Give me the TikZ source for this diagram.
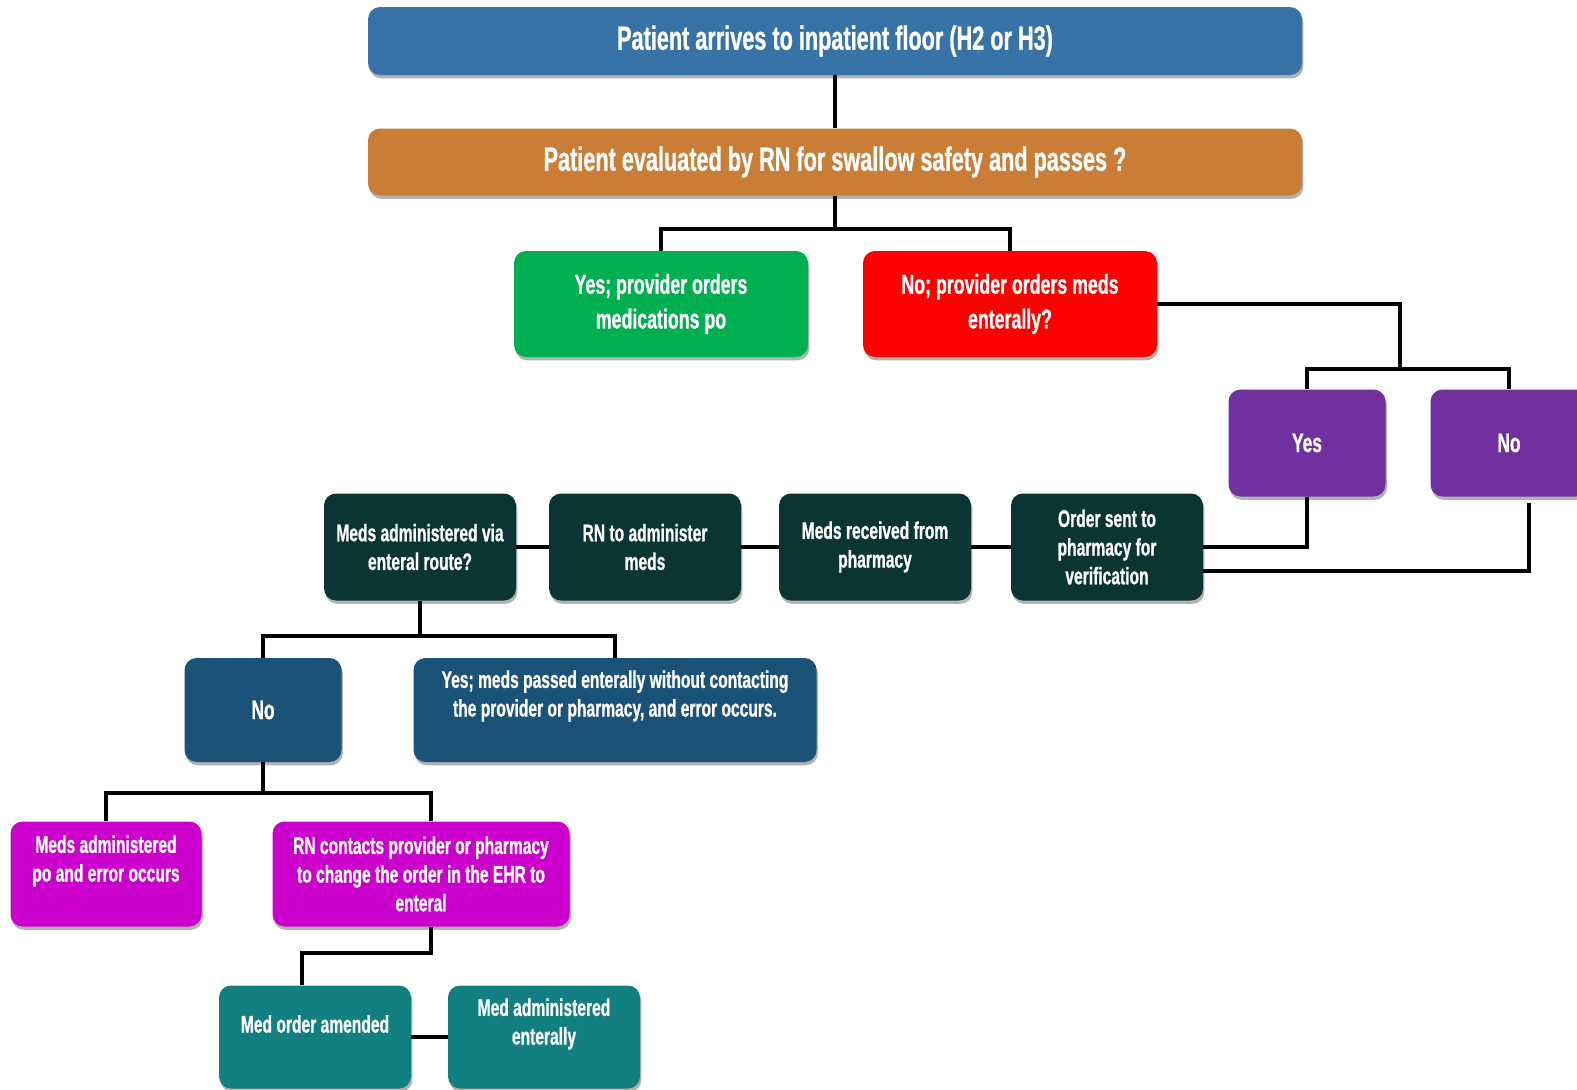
\documentclass[tikz,border=0pt]{standalone}
\usepackage{fontspec}
\newfontfamily\cf{Liberation Sans}[FakeStretch=0.65, BoldFeatures={FakeBold=0.8}]
\usetikzlibrary{shadows,calc}
\definecolor{topblue}{HTML}{3873A8}
\definecolor{orng}{HTML}{C97D36}
\definecolor{grn}{HTML}{00B050}
\definecolor{rd}{HTML}{FF0000}
\definecolor{purp}{HTML}{7030A0}
\definecolor{dk}{HTML}{0A3533}
\definecolor{dblue}{HTML}{1B5278}
\definecolor{mag}{HTML}{CC00CC}
\definecolor{tl}{HTML}{128080}
\tikzset{
  bx/.style={rounded corners=9pt, draw=none, text=white, align=center, inner sep=2pt,
    font=\cf\bfseries\fontsize{18}{21.5}\selectfont,
    drop shadow={shadow xshift=1pt, shadow yshift=-2.5pt, opacity=0.3, fill=black}},
  sz/.style 2 args={minimum width=#1*0.75pt, minimum height=#2*0.75pt},
  lbl/.style={text=white, align=center, inner sep=0pt, font=\cf\bfseries\fontsize{18}{21.5}\selectfont},
  big/.style={font=\cf\bfseries\fontsize{25}{30}\selectfont},
  mid/.style={font=\cf\bfseries\fontsize{20.5}{26}\selectfont},
  yn/.style={font=\cf\bfseries\fontsize{20}{24}\selectfont},
  ln/.style={line width=2.6pt, black}
}
\begin{document}
\begin{tikzpicture}[x=0.75pt,y=-0.75pt]
\useasboundingbox[fill=white] (0,0) rectangle (1577,1089);
% boxes
\node[bx, big, fill=topblue, sz={934}{68}] (top) at (835,41) {Patient arrives to inpatient floor (H2 or H3)};
\node[bx, big, fill=orng, sz={934}{67}] (ora) at (835,162) {Patient evaluated by RN for swallow safety and passes ?};
\node[bx, mid, fill=grn, sz={294}{106}] (grn) at (661,304) {Yes; provider orders\\medications po};
\node[bx, mid, fill=rd, sz={294}{106}] (red) at (1010,304) {No; provider orders meds\\enterally?};
\node[bx, yn, fill=purp, sz={157}{107}] (pyes) at (1307,443) {Yes};
\node[bx, yn, fill=purp, sz={157}{107}] (pno) at (1509,443) {No};
\node[bx, fill=dk, sz={192}{107}] (A) at (420,547) {Meds administered via\\enteral route?};
\node[bx, fill=dk, sz={192}{107}] (B) at (645,547) {RN to administer\\meds};
\node[bx, fill=dk, sz={192}{107}] (C) at (875,547) {Meds received from\\pharmacy};
\node[bx, fill=dk, sz={192}{107}] (D) at (1107,547) {Order sent to\\pharmacy for\\verification};
\node[bx, yn, fill=dblue, sz={157}{104}] (nob) at (263,710) {No};
\node[bx, fill=dblue, sz={403}{104}] (yesb) at (615,710) {};
\node[lbl] (yesbt) at (615,696) {Yes; meds passed enterally without contacting\\the provider or pharmacy, and error occurs.};
\node[bx, fill=mag, sz={191}{105}] (pk1) at (106,874) {};
\node[lbl] (pk1t) at (106,861) {Meds administered\\po and error occurs};
\node[bx, fill=mag, sz={297}{105}] (pk2) at (421,874) {RN contacts provider or pharmacy\\to change the order in the EHR to\\enteral};
\node[bx, fill=tl, sz={192}{103}] (t1) at (315,1037) {};
\node[lbl] (t1t) at (315,1024) {Med order amended};
\node[bx, fill=tl, sz={192}{103}] (t2) at (544,1037) {};
\node[lbl] (t2t) at (544,1024) {Med administered\\enterally};
% connectors
\coordinate (b1) at (835,229);
\coordinate (b2) at (1400,369);
\coordinate (b3) at (420,636);
\coordinate (b4) at (263,793);
\draw[ln] (top.south) -- (ora.north);
\draw[ln] (ora.south) -- (b1);
\draw[ln] (grn.north) |- (b1) -| (red.north);
\draw[ln] (red.east) -| (b2);
\draw[ln] (pyes.north) |- (b2) -| (pno.north);
\draw[ln] (pyes.south) |- (D.east);
\draw[ln] ($(pno.south)+(20,6)$) |- ($(D.east)+(0,24)$);
\draw[ln] (A.east) -- (B.west);
\draw[ln] (B.east) -- (C.west);
\draw[ln] (C.east) -- (D.west);
\draw[ln] (A.south) -- (b3);
\draw[ln] (nob.north) |- (b3) -| (yesb.north);
\draw[ln] (nob.south) -- (b4);
\draw[ln] (pk1.north) |- (b4) -| ($(pk2.north)+(10,0)$);
\draw[ln] ($(pk2.south)+(10,0)$) -- ++(0,26) -| ($(t1.north)+(-13,0)$);
\draw[ln] (t1.east) -- (t2.west);
\end{tikzpicture}
\end{document}
